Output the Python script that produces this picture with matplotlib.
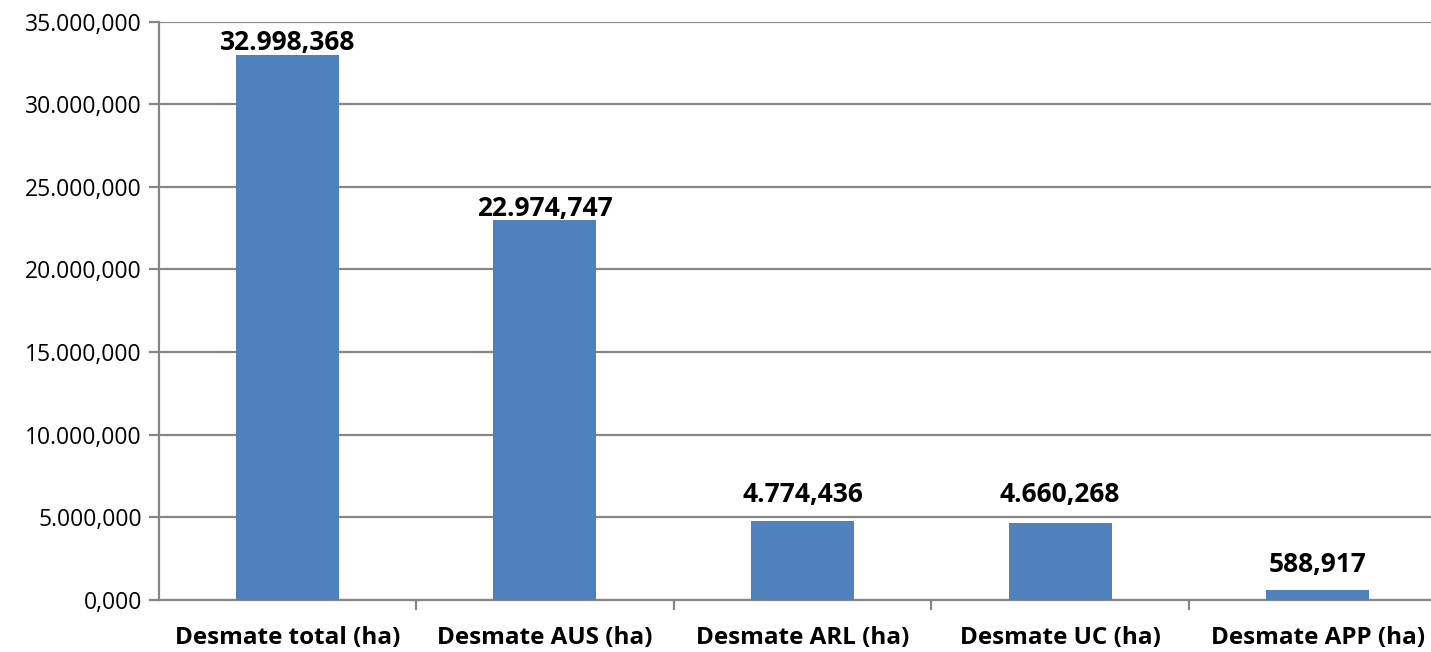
import matplotlib
matplotlib.use("Agg")
import matplotlib.pyplot as plt
from matplotlib.ticker import FuncFormatter, MultipleLocator

categories = ["Desmate total (ha)", "Desmate AUS (ha)", "Desmate ARL (ha)",
              "Desmate UC (ha)", "Desmate APP (ha)"]
values = [32998.368, 22974.747, 4774.436, 4660.268, 588.917]

# label gap above each bar (pixels), as placed in the original
label_gap_px = [5, 4, 19, 21, 18]

plt.rcParams['font.family'] = ['Open Sans', 'DejaVu Sans']

def br(v, decimals=3):
    s = f"{v:,.{decimals}f}"
    return s.replace(",", "X").replace(".", ",").replace("X", ".")

W, H = 1431, 652
fig = plt.figure(figsize=(W / 100, H / 100), dpi=100)
left, right, top, bottom = 158.5, 1446.5, 21.5, 600
ax = fig.add_axes([left / W, (H - bottom) / H, (right - left) / W, (bottom - top) / H])

x = list(range(len(categories)))
bars = ax.bar(x, values, width=0.4, color="#4F81BD", zorder=3)
ax.set_xlim(-0.5, len(categories) - 0.5)
ax.set_ylim(0, 35000)
ax.yaxis.set_major_locator(MultipleLocator(5000))
ax.yaxis.set_major_formatter(FuncFormatter(lambda v, p: br(v)))
ax.grid(axis="y", color="#868686", linewidth=1.6, zorder=0)
ax.set_axisbelow(True)

for s in ["top", "right"]:
    ax.spines[s].set_visible(False)
for s in ["left", "bottom"]:
    ax.spines[s].set_color("#868686")
    ax.spines[s].set_linewidth(1.6)

ax.set_xticks([i + 0.5 for i in x[:-1]], minor=False)
ax.set_xticklabels([])
ax.tick_params(axis="x", which="major", length=7, width=1.6, color="#868686")
ax.set_xticks(x, minor=True)
ax.set_xticklabels(categories, minor=True, fontsize=17.5, fontweight="bold")
ax.tick_params(axis="x", which="minor", length=0, pad=19)
ax.tick_params(axis="y", length=7, width=1.6, color="#868686", labelsize=16.5, pad=5)

for b, v, g in zip(bars, values, label_gap_px):
    ax.annotate(br(v), (b.get_x() + b.get_width() / 2, v), xytext=(0, g * 0.72),
                textcoords="offset points", ha="center", va="baseline",
                fontsize=19, fontweight="bold", zorder=5)

fig.savefig("out.png", dpi=100)
